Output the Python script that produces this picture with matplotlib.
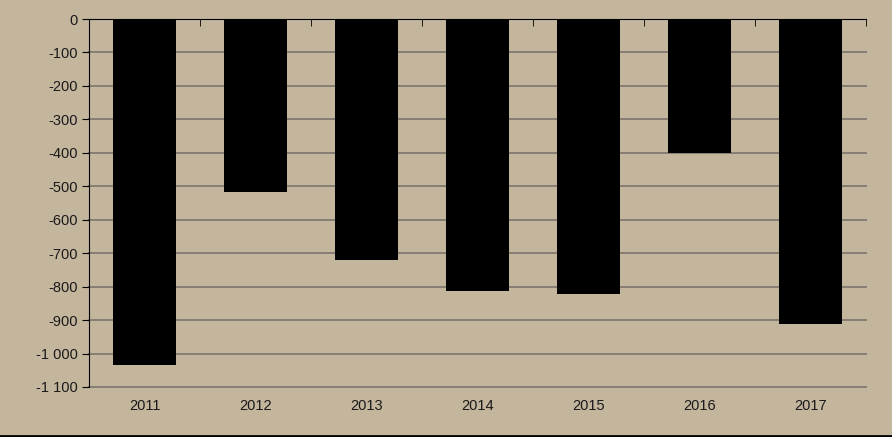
import matplotlib
matplotlib.use("Agg")
import matplotlib.pyplot as plt
from matplotlib.ticker import FixedLocator, FuncFormatter
from matplotlib.lines import Line2D

years = ["2011", "2012", "2013", "2014", "2015", "2016", "2017"]
values = [-1035, -518, -720, -813, -822, -400, -913]
yticks = list(range(0, -1101, -100))

bg = "#C4B59D"
grid = "#877E73"

plt.rcParams['font.family'] = ['Liberation Sans', 'DejaVu Sans']
fig = plt.figure(figsize=(8.92, 4.37), dpi=100, facecolor=bg)
ax = fig.add_axes([89/892, 1-387/437, (866-89)/892, (387-19)/437])
ax.set_facecolor(bg)

x = list(range(len(years)))
ax.bar(x, values, width=0.56, color="black", zorder=3)

ax.set_xlim(-0.5, len(years)-0.5)
ax.set_ylim(-1100, 0)
ax.set_yticks(yticks)
ax.yaxis.set_major_formatter(FuncFormatter(lambda v, p: ("-" if v < 0 else "") + f"{abs(int(v)):,}".replace(",", " ")))
for t in yticks:
    if t != 0:
        ax.axhline(t, color=grid, lw=1.4, zorder=1, clip_on=False)

ax.set_xticks(x)
ax.set_xticklabels(years)
ax.xaxis.set_minor_locator(FixedLocator([i + 0.5 for i in range(len(years))]))
ax.tick_params(axis='x', which='major', length=0, pad=9, labelsize=10.5, colors='#1a1a1a')
ax.tick_params(axis='x', which='minor', bottom=False, top=True, direction='in', length=5, color='black')
ax.tick_params(axis='y', which='major', length=5, direction='out', labelsize=10.5, colors='#1a1a1a', pad=3)
ax.tick_params(axis='y', color='black')

for s in ['right', 'bottom']:
    ax.spines[s].set_visible(False)
ax.spines['left'].set_color('black')
ax.spines['top'].set_color('black')
ax.spines['left'].set_zorder(4)
ax.spines['top'].set_zorder(4)

fig.add_artist(Line2D([0, 1], [1/437, 1/437], transform=fig.transFigure, color='black', lw=2))

fig.savefig("out.png", dpi=100, facecolor=bg)
